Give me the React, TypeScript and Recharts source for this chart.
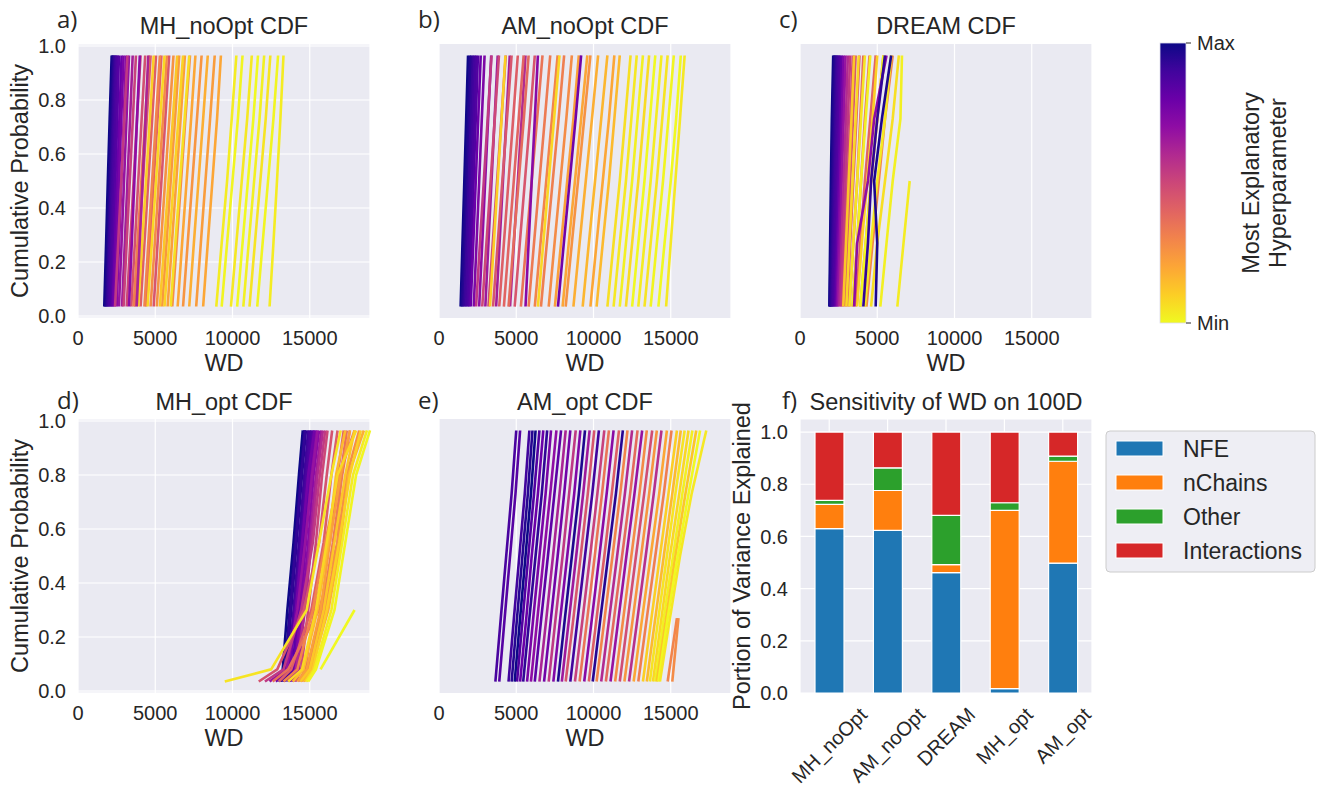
import React from 'react';
import { LineChart, Line, XAxis, YAxis, CartesianGrid, BarChart, Bar } from 'recharts';

const FONT = '"Liberation Sans", Arial, Helvetica, sans-serif';
const LETTER_FONT = '"Open Sans", "DejaVu Sans", sans-serif';
const TEXT = '#262626';
const PANEL_BG = '#EAEAF2';

// probability levels at which each CDF curve lists its WD values
const cdfLevels = [0.035, 0.27, 0.5, 0.73, 0.965];
const mhOptLevels = [0.035, 0.08, 0.3, 0.55, 0.8, 0.965];

// rows: [hyperparameter rank (1 = max, 0 = min), WD at each level]
const mhNoOptCurves: (number | null)[][] = [
  [1.0, 1700, 1820, 1930, 2050, 2180],
  [0.98, 1760, 1880, 2000, 2110, 2230],
  [0.96, 1820, 1940, 2060, 2170, 2290],
  [0.93, 1880, 2000, 2120, 2240, 2350],
  [0.91, 1950, 2060, 2180, 2300, 2420],
  [0.89, 2020, 2140, 2250, 2370, 2480],
  [0.87, 2100, 2210, 2330, 2440, 2560],
  [0.85, 2180, 2300, 2420, 2540, 2650],
  [0.8, 2250, 2400, 2540, 2680, 2820],
  [0.76, 2350, 2500, 2650, 2800, 2950],
  [0.72, 2500, 2660, 2810, 2960, 3100],
  [0.68, 2650, 2820, 2980, 3140, 3300],
  [0.64, 2850, 3030, 3200, 3370, 3540],
  [0.55, 2400, 2600, 2800, 3000, 3200],
  [0.52, 2950, 3150, 3350, 3550, 3750],
  [0.5, 3150, 3380, 3600, 3820, 4050],
  [0.47, 3450, 3680, 3900, 4120, 4350],
  [0.44, 3700, 3950, 4200, 4450, 4700],
  [0.42, 4050, 4300, 4550, 4800, 5050],
  [0.4, 4400, 4650, 4900, 5150, 5400],
  [0.45, 4900, 5150, 5400, 5650, 5900],
  [0.32, 3600, 3850, 4100, 4350, 4600],
  [0.3, 4300, 4550, 4800, 5050, 5300],
  [0.28, 4700, 4970, 5230, 5500, 5750],
  [0.26, 5100, 5370, 5640, 5910, 6180],
  [0.24, 5450, 5730, 6000, 6280, 6550],
  [0.22, 5800, 6080, 6360, 6640, 6920],
  [0.27, 6100, 6390, 6670, 6950, 7250],
  [0.2, 6450, 6740, 7030, 7320, 7600],
  [0.25, 6800, 7100, 7400, 7700, 8000],
  [0.18, 7200, 7500, 7800, 8100, 8400],
  [0.23, 7650, 7950, 8250, 8550, 8850],
  [0.2, 8100, 8400, 8700, 9000, 9250],
  [0.1, 3900, 4150, 4400, 4650, 4900],
  [0.08, 4500, 4780, 5050, 5320, 5600],
  [0.12, 5300, 5580, 5860, 6140, 6420],
  [0.06, 6000, 6300, 6600, 6900, 7200],
  [0.09, 5600, 5900, 6200, 6500, 6800],
  [0.7, 3300, 3480, 3650, 3820, 4000],
  [0.62, 3800, 3990, 4180, 4370, 4550],
  [0.03, 8950, 9300, 9650, 9950, 10250],
  [0.01, 9300, 9650, 10000, 10350, 10650],
  [0.04, 9900, 10250, 10600, 10950, 11250],
  [0.0, 10300, 10650, 11000, 11350, 11650],
  [0.02, 10700, 11050, 11400, 11750, 12050],
  [0.05, 11100, 11450, 11800, 12150, 12450],
  [0.01, 11600, 11950, 12300, 12650, 12950],
  [0.03, 12400, 12650, 12880, 13100, 13300],
];

const amNoOptCurves: (number | null)[][] = [
  [1.0, 1400, 1520, 1640, 1760, 1880],
  [0.97, 1480, 1610, 1740, 1870, 2000],
  [0.95, 1560, 1700, 1830, 1960, 2090],
  [0.92, 1650, 1790, 1930, 2060, 2200],
  [0.9, 1750, 1890, 2030, 2170, 2300],
  [0.88, 1850, 1990, 2130, 2270, 2400],
  [0.86, 1950, 2100, 2240, 2380, 2520],
  [0.8, 2050, 2220, 2380, 2540, 2700],
  [0.75, 2250, 2430, 2600, 2770, 2950],
  [0.7, 2600, 2800, 2990, 3180, 3380],
  [0.66, 3000, 3200, 3400, 3600, 3800],
  [0.64, 3700, 3920, 4140, 4360, 4580],
  [0.6, 4600, 4850, 5100, 5350, 5600],
  [0.55, 2400, 2650, 2900, 3150, 3400],
  [0.5, 2800, 3070, 3340, 3610, 3880],
  [0.48, 3200, 3480, 3760, 4040, 4320],
  [0.45, 3500, 3800, 4100, 4400, 4700],
  [0.42, 3900, 4200, 4500, 4800, 5100],
  [0.4, 4200, 4520, 4840, 5160, 5480],
  [0.38, 4500, 4830, 5160, 5490, 5800],
  [0.45, 4900, 5230, 5560, 5890, 6200],
  [0.35, 5300, 5650, 6000, 6350, 6700],
  [0.33, 5800, 6150, 6500, 6850, 7200],
  [0.3, 6200, 6570, 6940, 7310, 7680],
  [0.32, 6600, 6980, 7360, 7740, 8100],
  [0.28, 7100, 7480, 7860, 8240, 8600],
  [0.26, 8200, 8600, 9000, 9400, 9800],
  [0.22, 7500, 7900, 8300, 8700, 9050],
  [0.2, 8000, 8400, 8800, 9200, 9600],
  [0.18, 8700, 9100, 9500, 9900, 10300],
  [0.16, 9300, 9700, 10100, 10500, 10900],
  [0.2, 9800, 10200, 10600, 11000, 11350],
  [0.15, 10200, 10600, 11000, 11350, 11700],
  [0.72, 5600, 5800, 6000, 6200, 6400],
  [0.78, 7700, 8080, 8460, 8840, 9200],
  [0.1, 3300, 3550, 3800, 4050, 4300],
  [0.08, 6400, 6750, 7100, 7450, 7800],
  [0.06, 10900, 11300, 11700, 12050, 12400],
  [0.04, 11300, 11700, 12100, 12450, 12800],
  [0.02, 11700, 12100, 12500, 12850, 13200],
  [0.07, 12100, 12500, 12900, 13250, 13600],
  [0.0, 12500, 12900, 13300, 13650, 14000],
  [0.03, 12900, 13300, 13700, 14050, 14400],
  [0.05, 13300, 13700, 14100, 14450, 14800],
  [0.01, 13700, 14100, 14500, 14850, 15200],
  [0.0, 14200, 14600, 15000, 15350, 15650],
  [0.04, 14700, 15000, 15300, 15600, 15900],
];

const dreamCurves: (number | null)[][] = [
  [1.0, 1900, 1950, 2000, 2060, 2150],
  [0.98, 1930, 1990, 2050, 2110, 2200],
  [0.96, 1960, 2030, 2100, 2170, 2260],
  [0.94, 2000, 2080, 2150, 2230, 2320],
  [0.92, 2050, 2130, 2210, 2290, 2380],
  [0.9, 2100, 2190, 2270, 2360, 2450],
  [0.88, 2160, 2250, 2340, 2430, 2520],
  [0.86, 2230, 2320, 2410, 2500, 2600],
  [0.82, 2300, 2400, 2500, 2600, 2700],
  [0.75, 2380, 2490, 2600, 2710, 2820],
  [0.68, 2450, 2580, 2700, 2830, 2950],
  [0.6, 2550, 2690, 2830, 2970, 3100],
  [0.55, 2650, 2800, 2950, 3100, 3250],
  [0.5, 2750, 2920, 3080, 3250, 3420],
  [0.45, 2900, 3080, 3250, 3430, 3600],
  [0.42, 3050, 3250, 3450, 3650, 3850],
  [0.38, 3200, 3450, 3700, 3900, 4100],
  [0.35, 3400, 3700, 3950, 4200, 4500],
  [0.4, 3600, 3900, 4200, 4550, 4900],
  [0.32, 3900, 4250, 4600, 5000, 5400],
  [0.3, 4300, 4700, 5100, 5500, 6000],
  [0.12, 2800, 2980, 3150, 3330, 3500],
  [0.08, 3000, 3200, 3400, 3600, 3800],
  [0.05, 3200, 3450, 3700, 3950, 4200],
  [0.02, 3400, 3700, 3950, 4250, 4550],
  [0.1, 3700, 4000, 4350, 4700, 5000],
  [0.0, 3900, 4250, 4600, 5000, 5400],
  [0.04, 4200, 4600, 5000, 5500, 5900],
  [0.06, 4600, 5000, 5500, 6000, 6400],
  [0.02, 5200, 5600, 6000, 6500, 6600],
  [0.03, 6300, 6700, 7100, null, null],
  [0.7, 3500, 3700, 4400, 4800, 5600],
  [0.93, 4100, 4400, 4600, 5000, 5500],
  [0.97, 4900, 5000, 4800, 5300, 5900],
];

const mhOptCurves: (number | null)[][] = [
  [1.0, 13000, 13250, 13550, 13950, 14300, 14550],
  [0.97, 13150, 13400, 13700, 14050, 14400, 14650],
  [0.95, 13300, 13500, 13800, 14150, 14500, 14750],
  [0.93, 13100, 13450, 13750, 14100, 14450, 14700],
  [0.91, 13400, 13650, 13950, 14300, 14650, 14900],
  [0.89, 13550, 13750, 14050, 14400, 14750, 15000],
  [0.87, 13250, 13600, 14000, 14450, 14800, 15100],
  [0.85, 13700, 13900, 14200, 14550, 14900, 15200],
  [0.82, 13650, 13950, 14300, 14650, 15000, 15350],
  [0.78, 12800, 13700, 14100, 14500, 14900, 15300],
  [0.75, 13800, 14050, 14400, 14750, 15100, 15450],
  [0.72, 13900, 14150, 14500, 14900, 15250, 15600],
  [0.68, 12400, 13500, 14200, 14700, 15150, 15500],
  [0.65, 14000, 14300, 14650, 15000, 15400, 15750],
  [0.6, 13600, 14100, 14700, 15100, 15500, 15850],
  [0.55, 12100, 13300, 14450, 15200, 15650, 16000],
  [0.5, 14100, 14450, 14900, 15400, 15800, 16150],
  [0.46, 11700, 12900, 14600, 15600, 16100, 16450],
  [0.42, 13000, 13800, 15100, 15900, 16400, 16800],
  [0.4, 14300, 14700, 15300, 16300, 16800, 17200],
  [0.36, 12600, 13600, 15600, 16800, 17000, 17400],
  [0.33, 14400, 14900, 15800, 16500, 17100, 17600],
  [0.3, 13300, 14200, 15200, 16000, 16900, 17900],
  [0.27, 14500, 15000, 16000, 16800, 17400, 18200],
  [0.22, 14200, 14800, 15700, 16300, 17000, 17600],
  [0.18, 14600, 15100, 16200, 17000, 17500, 18500],
  [0.15, 13900, 14600, 15500, 16200, 16700, 17300],
  [0.12, 14400, 15000, 15900, 16600, 17300, 17900],
  [0.1, 14700, 15200, 16100, 16900, 17600, 18300],
  [0.08, 13600, 14500, 15400, 16100, 16800, 18000],
  [0.05, 9500, 12500, 14800, 15600, 16400, 17000],
  [0.03, 14800, 15300, 16400, 17100, 17800, 18700],
  [0.01, 14900, 15400, 16600, 17300, 18000, 18900],
  [0.0, null, 15700, 17900, null, null, null],
];

const amOptCurves: (number | null)[][] = [
  [0.88, 3650, 4000, 4350, 4700, 5000],
  [0.85, 3900, 4250, 4600, 4950, 5250],
  [0.9, 4500, 4850, 5200, 5550, 5850],
  [0.95, 4700, 5050, 5400, 5750, 6050],
  [1.0, 4900, 5250, 5600, 5950, 6250],
  [0.86, 5050, 5420, 5780, 6150, 6500],
  [0.8, 5250, 5650, 6000, 6400, 6750],
  [0.93, 5450, 5850, 6250, 6650, 7000],
  [0.76, 5700, 6100, 6500, 6900, 7250],
  [0.7, 5950, 6370, 6780, 7200, 7600],
  [0.83, 6200, 6620, 7050, 7470, 7900],
  [0.62, 6500, 6950, 7380, 7800, 8200],
  [0.78, 6800, 7250, 7680, 8100, 8500],
  [0.55, 7100, 7550, 8000, 8420, 8850],
  [0.74, 7400, 7850, 8300, 8750, 9150],
  [0.97, 7700, 8150, 8600, 9050, 9450],
  [0.66, 7950, 8420, 8880, 9330, 9750],
  [0.45, 8200, 8700, 9170, 9630, 10050],
  [0.9, 8500, 8980, 9450, 9920, 10350],
  [0.52, 8800, 9300, 9780, 10250, 10700],
  [0.35, 9100, 9600, 10080, 10550, 11000],
  [0.72, 9400, 9900, 10380, 10850, 11300],
  [0.42, 9700, 10200, 10700, 11180, 11650],
  [0.95, 9950, 10450, 10950, 11450, 11900],
  [0.3, 10200, 10720, 11230, 11730, 12200],
  [0.6, 10500, 11020, 11530, 12030, 12500],
  [0.38, 10800, 11330, 11850, 12370, 12850],
  [0.68, 11100, 11620, 12130, 12650, 13150],
  [0.28, 11400, 11930, 12450, 12970, 13450],
  [0.48, 11700, 12230, 12750, 13280, 13800],
  [0.25, 12000, 12550, 13080, 13600, 14100],
  [0.58, 12300, 12850, 13380, 13900, 14400],
  [0.2, 12600, 13150, 13700, 14250, 14750],
  [0.32, 12900, 13450, 14000, 14550, 15050],
  [0.1, 13200, 13750, 14300, 14850, 15400],
  [0.15, 13450, 14000, 14550, 15100, 15650],
  [0.05, 13650, 14200, 14750, 15300, 15900],
  [0.08, 13850, 14400, 14950, 15550, 16150],
  [0.02, 14000, 14550, 15150, 15750, 16400],
  [0.12, 14100, 14700, 15300, 15950, 16650],
  [0.0, 14200, 14800, 15450, 16150, 16900],
  [0.04, 14300, 14950, 15600, 16350, 17300],
  [0.3, 14800, 15400, null, null, null],
  [0.28, 15100, 15500, null, null, null],
];

// variance decomposition per sampler
const methods = ['MH_noOpt', 'AM_noOpt', 'DREAM', 'MH_opt', 'AM_opt'];
const nfeShare = [0.63, 0.623, 0.461, 0.017, 0.498];
const nChainsShare = [0.093, 0.153, 0.031, 0.683, 0.39];
const otherShare = [0.015, 0.087, 0.189, 0.029, 0.02];
const interactionShare = [0.262, 0.137, 0.319, 0.271, 0.092];

const wdTicks = [0, 5000, 10000, 15000];
const probTicks = [0, 0.2, 0.4, 0.6, 0.8, 1.0];

const varianceSeries = [
  { key: 'NFE', color: '#1f77b4', values: nfeShare },
  { key: 'nChains', color: '#ff7f0e', values: nChainsShare },
  { key: 'Other', color: '#2ca02c', values: otherShare },
  { key: 'Interactions', color: '#d62728', values: interactionShare },
];

const PLASMA = ['#0d0887', '#41049d', '#6a00a8', '#8f0da4', '#b12a90', '#cc4778', '#e16462', '#f2844b', '#fca636', '#fcce25', '#f0f921'];

const hexToRgb = (h: string) => [1, 3, 5].map((i) => parseInt(h.slice(i, i + 2), 16));

function plasma(t: number): string {
  const x = Math.min(1, Math.max(0, t)) * (PLASMA.length - 1);
  const i = Math.min(PLASMA.length - 2, Math.floor(x));
  const f = x - i;
  const a = hexToRgb(PLASMA[i]);
  const b = hexToRgb(PLASMA[i + 1]);
  return `rgb(${a.map((v, k) => Math.round(v + (b[k] - v) * f)).join(',')})`;
}

// layout of the plotting areas
const COL_X = [78, 439, 800];
const ROW_Y = [44, 419];
const PLOT_W = 292;
const PLOT_H = 274;
const AXIS_W = 70;
const PAD = 10;

const tickStyle = { fill: TEXT, fontSize: 20, fontFamily: FONT };

let measureCtx: CanvasRenderingContext2D | null = null;
function textWidth(s: string, font: string) {
  if (!measureCtx) measureCtx = document.createElement('canvas').getContext('2d');
  if (!measureCtx) return s.length * 11;
  measureCtx.font = font;
  return measureCtx.measureText(s).width;
}

interface CdfPanelProps {
  left: number;
  top: number;
  levels: number[];
  curves: (number | null)[][];
  showY: boolean;
}

const CdfPanel: React.FC<CdfPanelProps> = ({ left, top, levels, curves, showY }) => {
  const series = curves.map((row) => ({
    color: plasma(1 - (row[0] as number)),
    points: levels
      .map((p, i) => ({ wd: row[i + 1], p }))
      .filter((pt) => pt.wd !== null && pt.wd !== undefined),
  }));
  return (
    <div style={{ position: 'absolute', left: left - AXIS_W, top: top - PAD }}>
      <LineChart
        width={AXIS_W + PLOT_W + PAD}
        height={PAD + PLOT_H + 40}
        margin={{ top: PAD, right: PAD, bottom: 0, left: showY ? 0 : AXIS_W }}
      >
        <CartesianGrid fill={PANEL_BG} stroke="#ffffff" strokeWidth={1.2} horizontal={showY} vertical />
        <XAxis
          type="number"
          dataKey="wd"
          domain={[0, 18900]}
          ticks={wdTicks}
          height={40}
          axisLine={false}
          tickLine={false}
          tickSize={0}
          tickMargin={13}
          tick={tickStyle}
        />
        <YAxis
          type="number"
          dataKey="p"
          domain={[-0.0075, 1.0075]}
          ticks={probTicks}
          hide={!showY}
          width={AXIS_W}
          axisLine={false}
          tickLine={false}
          tickSize={0}
          tickMargin={12}
          tick={tickStyle}
          tickFormatter={(v: number) => v.toFixed(1)}
        />
        {series.map((s, i) => (
          <Line
            key={i}
            data={s.points}
            dataKey="p"
            type="linear"
            stroke={s.color}
            strokeWidth={2.6}
            dot={false}
            activeDot={false}
            isAnimationActive={false}
          />
        ))}
      </LineChart>
    </div>
  );
};

const MethodTick: React.FC<any> = ({ x, y, payload }) => {
  const label = String(payload.value);
  const w = textWidth(label, `20px ${FONT}`);
  const cy = y + ((w + 23) * Math.SQRT1_2) / 2;
  return (
    <text
      x={x}
      y={cy}
      textAnchor="middle"
      dominantBaseline="central"
      transform={`rotate(-45 ${x} ${cy})`}
      fill={TEXT}
      fontSize={20}
      fontFamily={FONT}
    >
      {label}
    </text>
  );
};

const VariancePanel: React.FC = () => {
  const data = methods.map((name, i) => {
    const row: Record<string, number | string> = { name };
    varianceSeries.forEach((s) => {
      row[s.key] = s.values[i];
    });
    return row;
  });
  return (
    <div style={{ position: 'absolute', left: COL_X[2] - AXIS_W, top: ROW_Y[1] - PAD }}>
      <BarChart
        width={AXIS_W + PLOT_W + PAD}
        height={PAD + PLOT_H + 120}
        data={data}
        margin={{ top: PAD, right: PAD, bottom: 0, left: 0 }}
        barSize={29}
      >
        <CartesianGrid fill={PANEL_BG} stroke="#ffffff" strokeWidth={1.2} />
        <XAxis
          dataKey="name"
          interval={0}
          height={120}
          axisLine={false}
          tickLine={false}
          tickSize={0}
          tickMargin={10}
          tick={<MethodTick />}
        />
        <YAxis
          type="number"
          domain={[0, 1.05]}
          ticks={probTicks}
          width={AXIS_W}
          axisLine={false}
          tickLine={false}
          tickSize={0}
          tickMargin={12}
          tick={tickStyle}
          tickFormatter={(v: number) => v.toFixed(1)}
        />
        {varianceSeries.map((s) => (
          <Bar
            key={s.key}
            dataKey={s.key}
            stackId="variance"
            fill={s.color}
            stroke="#ffffff"
            strokeWidth={1.2}
            isAnimationActive={false}
          />
        ))}
      </BarChart>
    </div>
  );
};

const cdfPanels = [
  { letter: 'a)', title: 'MH_noOpt CDF', col: 0, row: 0, levels: cdfLevels, curves: mhNoOptCurves },
  { letter: 'b)', title: 'AM_noOpt CDF', col: 1, row: 0, levels: cdfLevels, curves: amNoOptCurves },
  { letter: 'c)', title: 'DREAM CDF', col: 2, row: 0, levels: cdfLevels, curves: dreamCurves },
  { letter: 'd)', title: 'MH_opt CDF', col: 0, row: 1, levels: mhOptLevels, curves: mhOptCurves },
  { letter: 'e)', title: 'AM_opt CDF', col: 1, row: 1, levels: cdfLevels, curves: amOptCurves },
];

const LETTER_BASE = [28, 409];
const TITLE_BASE = [34, 410];

const Annotations: React.FC = () => {
  const cbX = 1160;
  const cbTop = 43;
  const cbH = 280;
  const cbW = 26;
  const legendRows = varianceSeries.map((s, i) => ({ ...s, y: 441 + i * 34 }));
  return (
    <svg
      width={1318}
      height={787}
      style={{ position: 'absolute', left: 0, top: 0, pointerEvents: 'none' }}
      fontFamily={FONT}
      fill={TEXT}
    >
      <defs>
        <linearGradient id="plasmaBar" x1="0" y1="0" x2="0" y2="1">
          {PLASMA.map((c, i) => (
            <stop key={i} offset={i / (PLASMA.length - 1)} stopColor={c} />
          ))}
        </linearGradient>
      </defs>

      {cdfPanels.map((p) => {
        const left = COL_X[p.col];
        const top = ROW_Y[p.row];
        const cx = left + PLOT_W / 2;
        return (
          <g key={p.letter}>
            <text x={left - 21} y={LETTER_BASE[p.row]} fontSize={24} fontFamily={LETTER_FONT}>
              {p.letter}
            </text>
            <text x={cx} y={TITLE_BASE[p.row]} fontSize={23.5} textAnchor="middle">
              {p.title}
            </text>
            <text x={cx} y={top + PLOT_H + 52.5} fontSize={23.5} textAnchor="middle">
              WD
            </text>
            {p.col === 0 && (
              <text
                x={left - 50}
                y={top + PLOT_H / 2}
                fontSize={23.5}
                textAnchor="middle"
                transform={`rotate(-90 ${left - 50} ${top + PLOT_H / 2})`}
              >
                Cumulative Probability
              </text>
            )}
          </g>
        );
      })}

      <text x={COL_X[2] - 18} y={LETTER_BASE[1]} fontSize={24} fontFamily={LETTER_FONT}>
        f)
      </text>
      <text x={COL_X[2] + PLOT_W / 2} y={TITLE_BASE[1]} fontSize={23.5} textAnchor="middle">
        Sensitivity of WD on 100D
      </text>
      <text
        x={COL_X[2] - 50.5}
        y={ROW_Y[1] + PLOT_H / 2}
        fontSize={23.5}
        textAnchor="middle"
        transform={`rotate(-90 ${COL_X[2] - 50.5} ${ROW_Y[1] + PLOT_H / 2})`}
      >
        Portion of Variance Explained
      </text>

      {/* colour scale */}
      <rect x={cbX} y={cbTop} width={cbW} height={cbH} fill="url(#plasmaBar)" stroke="#dcdcec" strokeWidth={0.8} />
      <line x1={cbX + cbW} x2={cbX + cbW + 5} y1={cbTop} y2={cbTop} stroke={TEXT} strokeWidth={1} />
      <line x1={cbX + cbW} x2={cbX + cbW + 5} y1={cbTop + cbH} y2={cbTop + cbH} stroke={TEXT} strokeWidth={1} />
      <text x={cbX + cbW + 11} y={cbTop} fontSize={20} dominantBaseline="central">
        Max
      </text>
      <text x={cbX + cbW + 11} y={cbTop + cbH} fontSize={20} dominantBaseline="central">
        Min
      </text>
      <text
        x={1259}
        y={cbTop + cbH / 2}
        fontSize={23.5}
        textAnchor="middle"
        transform={`rotate(-90 1259 ${cbTop + cbH / 2})`}
      >
        Most Explanatory
      </text>
      <text
        x={1286}
        y={cbTop + cbH / 2}
        fontSize={23.5}
        textAnchor="middle"
        transform={`rotate(-90 1286 ${cbTop + cbH / 2})`}
      >
        Hyperparameter
      </text>

      {/* legend for the variance bars */}
      <rect x={1106} y={431} width={209} height={141} rx={4} fill="#EEEEF4" stroke="#cccccc" strokeWidth={1} />
      {legendRows.map((r) => (
        <g key={r.key}>
          <rect x={1116} y={r.y} width={47} height={15} fill={r.color} stroke="#ffffff" strokeWidth={1} />
          <text x={1183} y={r.y + 15.5} fontSize={23}>
            {r.key}
          </text>
        </g>
      ))}
    </svg>
  );
};

export default function App() {
  return (
    <div
      style={{
        position: 'absolute',
        left: 0,
        top: 0,
        width: 1318,
        height: 787,
        background: '#ffffff',
        fontFamily: FONT,
        overflow: 'hidden',
      }}
    >
      {cdfPanels.map((p) => (
        <CdfPanel
          key={p.letter}
          left={COL_X[p.col]}
          top={ROW_Y[p.row]}
          levels={p.levels}
          curves={p.curves}
          showY={p.col === 0}
        />
      ))}
      <VariancePanel />
      <Annotations />
    </div>
  );
}
